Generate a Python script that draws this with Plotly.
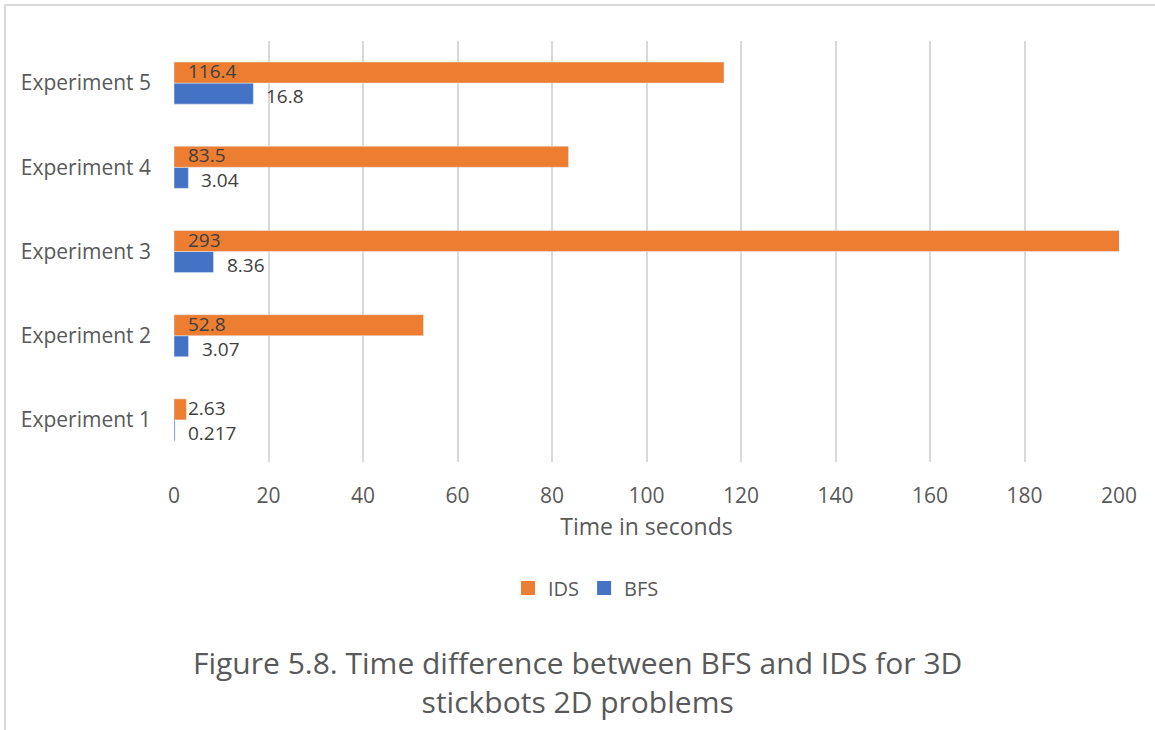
import plotly.graph_objects as go

# Data
experiments = ["Experiment 1", "Experiment 2", "Experiment 3", "Experiment 4", "Experiment 5"]
ids_times = [2.63, 52.8, 293, 83.5, 116.4]
bfs_times = [0.217, 3.07, 8.36, 3.04, 16.8]
ids_labels = ["2.63", "52.8", "293", "83.5", "116.4"]
bfs_labels = ["0.217", "3.07", "8.36", "3.04", "16.8"]
x_ticks = [0, 20, 40, 60, 80, 100, 120, 140, 160, 180, 200]
caption = "Figure 5.8. Time difference between BFS and IDS for 3D<br>stickbots 2D problems"

ORANGE = "#ED7D31"
BLUE = "#4472C4"
TEXT = "#404040"
AXIS_TEXT = "#595959"
FONT = "Open Sans"

W, H = 1155, 730
L, R, T, B = 174, 36, 41, 268
plot_w = W - L - R
plot_h = H - T - B


def px_to_paper_x(px):
    return (px - L) / plot_w


def px_to_paper_y(py):
    return 1 - (py - T) / plot_h


fig = go.Figure()
fig.add_trace(go.Bar(
    y=experiments, x=bfs_times, name="BFS", orientation="h",
    marker=dict(color=BLUE), offsetgroup="bfs", showlegend=False,
))
fig.add_trace(go.Bar(
    y=experiments, x=ids_times, name="IDS", orientation="h",
    marker=dict(color=ORANGE), offsetgroup="ids", showlegend=False,
))
# Legend entries with square swatches
for name, color in [("IDS", ORANGE), ("BFS", BLUE)]:
    fig.add_trace(go.Scatter(
        x=[None], y=[None], mode="markers", name=name,
        marker=dict(symbol="square", size=14, color=color),
    ))

# Value labels: IDS at the bar base, BFS just past the bar end
annotations = []
for cat, lab in zip(experiments, ids_labels):
    annotations.append(dict(
        x=0, y=cat, xref="x", yref="y", text=lab, showarrow=False,
        xanchor="left", yanchor="middle", xshift=13, yshift=12,
        borderpad=0,
        font=dict(family=FONT, size=19, color=TEXT),
    ))
for cat, val, lab in zip(experiments, bfs_times, bfs_labels):
    annotations.append(dict(
        x=val, y=cat, xref="x", yref="y", text=lab, showarrow=False,
        xanchor="left", yanchor="middle", xshift=12, yshift=-13,
        borderpad=0,
        font=dict(family=FONT, size=19, color=TEXT),
    ))

# Figure caption
annotations.append(dict(
    x=px_to_paper_x(577), y=px_to_paper_y(682), xref="paper", yref="paper",
    text=caption, showarrow=False, xanchor="center", yanchor="middle",
    align="center",
    font=dict(family=FONT, size=30, color=AXIS_TEXT),
))

fig.update_layout(
    width=W, height=H,
    margin=dict(l=L, r=R, t=T, b=B),
    paper_bgcolor="white", plot_bgcolor="white",
    barmode="group", bargap=0.5, bargroupgap=0,
    font=dict(family=FONT, color=AXIS_TEXT),
    showlegend=True,
    legend=dict(
        orientation="h", x=px_to_paper_x(586), xanchor="center",
        y=px_to_paper_y(588), yanchor="middle",
        font=dict(family=FONT, size=20, color=AXIS_TEXT),
        itemwidth=30,
    ),
    xaxis=dict(
        range=[0, 200], tickvals=x_ticks, showgrid=True,
        gridcolor="#D9D9D9", gridwidth=1.5, zeroline=False,
        showline=False, ticks="", ticklabelstandoff=19,
        tickfont=dict(family=FONT, size=21, color=AXIS_TEXT),
        title=dict(text="Time in seconds", standoff=10,
                   font=dict(family=FONT, size=23, color=AXIS_TEXT)),
    ),
    yaxis=dict(
        showgrid=False, zeroline=False, showline=False, ticks="",
        ticklabelstandoff=22,
        tickfont=dict(family=FONT, size=21, color=AXIS_TEXT),
    ),
    annotations=annotations,
    shapes=[dict(
        type="rect", xref="paper", yref="paper",
        x0=px_to_paper_x(5), x1=px_to_paper_x(1200),
        y0=px_to_paper_y(800), y1=px_to_paper_y(5),
        line=dict(color="#D9D9D9", width=2), fillcolor="rgba(0,0,0,0)",
        layer="below",
    )],
)

fig.write_html("out.html")
